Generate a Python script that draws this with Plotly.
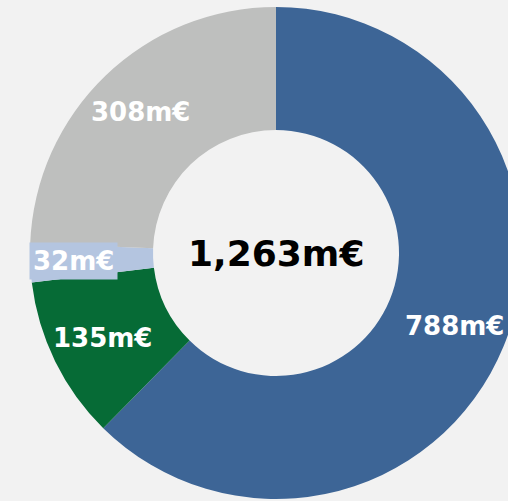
import math
import plotly.graph_objects as go

categories = ["A", "B", "C", "D"]
values = [788, 135, 32, 308]
colors = ["#3d6596", "#066b36", "#b4c5e0", "#bebfbe"]
label_texts = [f"{v}m€" for v in values]
total = sum(values)

W, H = 530, 501
cx, cy, R = 276, 253, 246
label_r = [193, 193, 203, 196]

fig = go.Figure(go.Pie(
    labels=categories,
    values=values,
    marker=dict(colors=colors, line=dict(width=0)),
    hole=0.5,
    sort=False,
    direction="clockwise",
    rotation=0,
    textinfo="none",
    hoverinfo="skip",
    showlegend=False,
    domain=dict(x=[(cx - R) / W, (cx + R) / W], y=[(H - cy - R) / H, (H - cy + R) / H]),
))

fig.add_annotation(
    text=f"<b>{total:,}m€</b>",
    x=cx / W, y=(H - cy) / H, xref="paper", yref="paper",
    xanchor="center", yanchor="middle",
    showarrow=False, font=dict(family="DejaVu Sans", size=36, color="black"),
)

cum = 0
for i, v in enumerate(values):
    mid = (cum + v / 2) / total * 2 * math.pi
    cum += v
    px = cx + label_r[i] * math.sin(mid)
    py = cy - label_r[i] * math.cos(mid)
    fig.add_annotation(
        text=f"<b>{label_texts[i]}</b>",
        x=px / W, y=(H - py) / H, xref="paper", yref="paper",
        xanchor="center", yanchor="middle",
        showarrow=False,
        bgcolor=colors[i] if v == 32 else None, borderpad=3,
        font=dict(family="DejaVu Sans", size=26, color="white"),
    )

fig.update_layout(
    width=W, height=H,
    margin=dict(l=0, r=0, t=0, b=0),
    paper_bgcolor="#f2f2f2",
    plot_bgcolor="#f2f2f2",
)

fig.write_html("out.html", post_script="document.body.style.overflow='hidden';document.body.style.margin='0';")
